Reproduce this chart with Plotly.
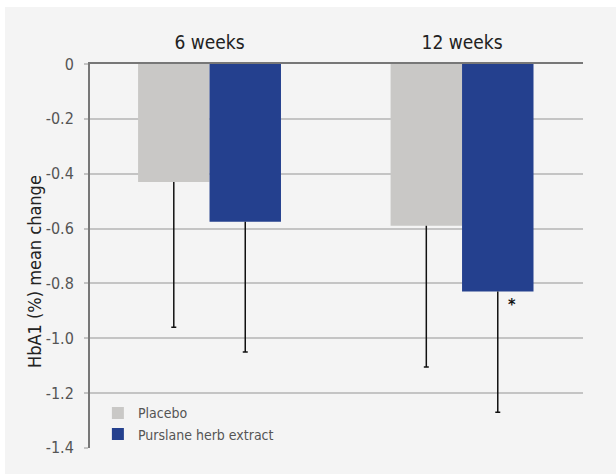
import plotly.graph_objects as go

# HbA1c mean change from baseline, by visit
visits = ["6 weeks", "12 weeks"]
placebo_mean = [-0.43, -0.59]
placebo_sd = [0.53, 0.515]
extract_mean = [-0.575, -0.83]
extract_sd = [0.475, 0.44]
significant_label = "<b>*</b>"

y_ticks = [0, -0.2, -0.4, -0.6, -0.8, -1.0, -1.2, -1.4]
y_ticktext = ["0", "-0.2", "-0.4", "-0.6", "-0.8", "-1.0", "-1.2", "-1.4"]

FONT = "Liberation Sans Narrow, DejaVu Sans Condensed, Arial Narrow, sans-serif"
GREY_BAR = "#c9c8c6"
BLUE_BAR = "#24408e"
BG = "#f4f4f4"


def lower_ends(means, sds):
    return [m - s for m, s in zip(means, sds)]


fig = go.Figure()

for name, means, sds, color, grp in [
    ("Placebo", placebo_mean, placebo_sd, GREY_BAR, "p"),
    ("Purslane herb extract", extract_mean, extract_sd, BLUE_BAR, "e"),
]:
    # the bar itself with a downward whisker (no caps)
    fig.add_trace(go.Bar(
        name=name, x=visits, y=means, offsetgroup=grp,
        marker=dict(color=color, line=dict(width=0)),
        error_y=dict(type="data", symmetric=False, array=[0] * len(means),
                     arrayminus=sds, color="#111111", thickness=1.5, width=0),
    ))
    # small cap at the lower end of each whisker
    fig.add_trace(go.Bar(
        x=visits, y=lower_ends(means, sds), offsetgroup=grp,
        marker=dict(color="rgba(0,0,0,0)", line=dict(width=0)),
        error_y=dict(type="data", symmetric=False, array=[0] * len(means),
                     arrayminus=[0] * len(means), color="#111111",
                     thickness=1.5, width=2.5),
        showlegend=False, hoverinfo="skip",
    ))

# significance marker next to the 12-week extract bar
fig.add_annotation(
    x=visits[1], y=extract_mean[1], text=significant_label, showarrow=False,
    xshift=50, yshift=-13, font=dict(family=FONT, size=16, color="#111111"),
)

# y axis title
fig.add_annotation(
    xref="paper", yref="paper", x=-0.1116, y=0.461, text="HbA1 (%) mean change",
    textangle=-90, showarrow=False, xanchor="center", yanchor="middle",
    font=dict(family=FONT, size=18, color="#222222"),
)

# light panel behind the chart, leaving a thin white strip at top and left
fig.add_shape(
    type="rect", xref="paper", yref="paper", layer="below",
    x0=(5 - 90) / 493, x1=(616 - 90) / 493, y0=(448 - 474) / 384, y1=(448 - 7) / 384,
    fillcolor=BG, line=dict(width=0),
)

fig.update_layout(
    width=616, height=474,
    margin=dict(l=90, r=33, t=64, b=26, pad=0),
    paper_bgcolor="white", plot_bgcolor=BG,
    barmode="group", bargap=0.434, bargroupgap=0,
    font=dict(family=FONT, color="#555555"),
    legend=dict(
        x=0.016, y=0.132, xanchor="left", yanchor="top",
        bgcolor="rgba(0,0,0,0)", font=dict(family=FONT, size=14, color="#555555"),
        tracegroupgap=0, itemwidth=30,
    ),
    xaxis=dict(
        side="top", type="category", range=[-0.4733, 1.479],
        showgrid=False, showline=True, linecolor="#777777", linewidth=2,
        ticks="", tickfont=dict(family=FONT, size=19, color="#222222"),
        ticklabelstandoff=5, zeroline=False,
    ),
    yaxis=dict(
        range=[-1.4005, 0], tickvals=y_ticks, ticktext=y_ticktext,
        showgrid=True, gridcolor="#c4c4c4", gridwidth=1.5,
        showline=True, linecolor="#777777", linewidth=2,
        ticks="outside", ticklen=4, tickcolor="#c4c4c4", tickwidth=1.5,
        tickfont=dict(family=FONT, size=16, color="#555555"),
        ticklabelstandoff=7, zeroline=False,
    ),
)

fig.write_html("out.html")
